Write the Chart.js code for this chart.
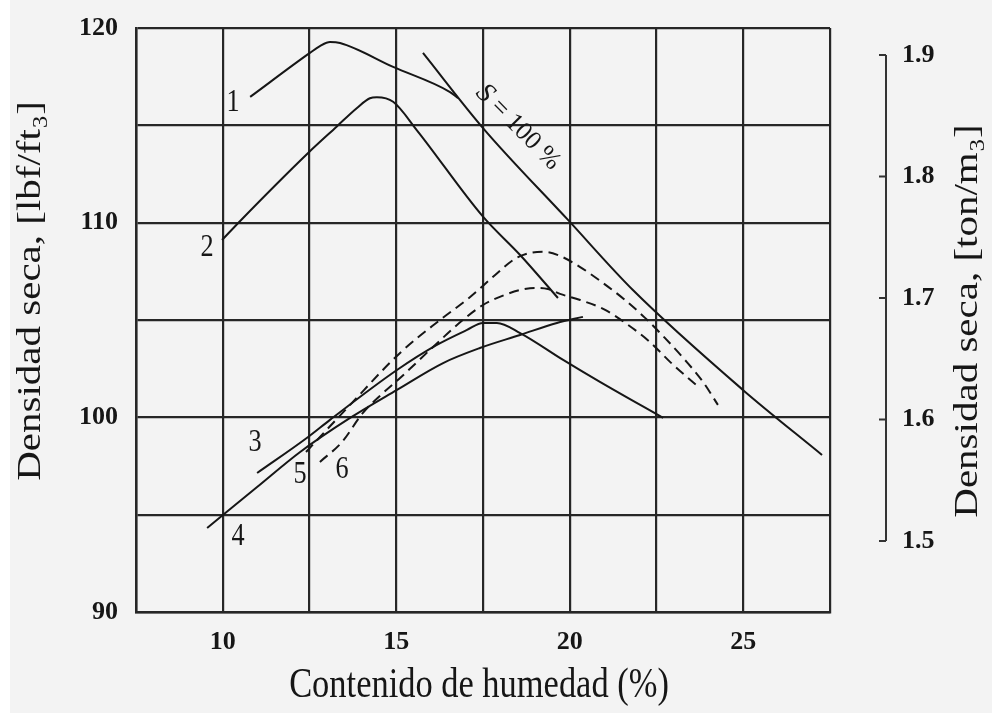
<!DOCTYPE html>
<html>
<head>
<meta charset="utf-8">
<script src="https://cdn.jsdelivr.net/npm/chart.js@4.4.1/dist/chart.umd.min.js"></script>
<style>
  html, body { margin: 0; padding: 0; background: #f3f3f3; }
  #wrap { width: 992px; height: 713px; }
</style>
</head>
<body>
<div id="wrap"><canvas id="chart" width="992" height="713"></canvas></div>
<script>
// moisture content (%) vs dry density (lbf/ft3)
const curve1X = [10.79, 12.51, 12.8, 13.09, 13.38, 14.91, 16.55, 16.78];
const curve1Y = [116.46, 118.72, 119.07, 119.28, 119.23, 118.0, 116.71, 116.4];

const curve2X = [9.98, 10.53, 12.46, 13.28, 13.86, 14.24, 14.44, 14.91, 15.59, 17.5, 18.57, 19.66];
const curve2Y = [109.11, 110.14, 113.58, 114.93, 115.88, 116.39, 116.44, 116.21, 114.76, 110.31, 108.34, 106.13];

const curve3X = [10.99, 12.46, 13.09, 15.02, 16.17, 17.04, 17.5, 17.9, 18.57, 19.81, 20.87, 22.69];
const curve3Y = [97.14, 98.99, 99.87, 102.43, 103.72, 104.49, 104.85, 104.85, 104.33, 102.95, 101.82, 99.97];

const curve4X = [9.55, 10.99, 12.23, 13.67, 15.02, 16.35, 17.41, 18.57, 19.63, 20.38];
const curve4Y = [94.32, 96.42, 98.22, 99.97, 101.41, 102.79, 103.56, 104.23, 104.85, 105.16];

const curve5X = [12.4, 13.67, 15.11, 16.26, 17.13, 17.85, 18.42, 18.85, 19.29, 19.72, 20.3, 20.96, 21.59, 22.17, 22.74, 23.32, 23.84, 24.27];
const curve5Y = [98.22, 100.64, 103.31, 105.0, 106.18, 107.31, 108.14, 108.44, 108.5, 108.29, 107.72, 106.9, 106.03, 105.11, 104.08, 102.95, 101.82, 100.64];

const curve6X = [12.8, 13.44, 14.04, 14.62, 15.11, 15.97, 16.92, 17.5, 18.13, 18.57, 18.99, 19.37, 19.72, 20.3, 21.02, 21.68, 22.31, 22.89, 23.41, 23.75];
const curve6Y = [97.71, 98.74, 100.23, 101.25, 102.02, 103.46, 105.0, 105.77, 106.29, 106.54, 106.65, 106.59, 106.34, 106.03, 105.52, 104.75, 103.87, 102.85, 102.02, 101.51];

// zero air voids line, S = 100 %
const satX = [15.77, 17.5, 19.95, 21.82, 24.99, 27.27];
const satY = [118.72, 114.86, 110.14, 106.54, 101.41, 98.07];

const curveNames = ['1', '2', '3', '4', '5', '6'];
const nameX = [10.3, 9.55, 10.93, 10.44, 12.23, 13.44];
const nameY = [116.15, 108.7, 98.69, 93.86, 97.04, 97.3];

const rightTicks = [1.5, 1.6, 1.7, 1.8, 1.9];
const LBF_PER_TON = 62.428; // 1 ton/m3 in lbf/ft3

const SERIF = "'Liberation Serif', 'DejaVu Serif', serif";
const INK = '#161616';
const SQUEEZE = 0.82; // the scanned lettering is narrow

function pts(xs, ys) {
    return xs.map((x, i) => ({ x: x, y: ys[i] }));
}

function curve(xs, ys, dashed) {
    return {
        data: pts(xs, ys),
        borderColor: INK,
        borderWidth: 2,
        borderDash: dashed ? [10, 6] : [],
        pointRadius: 0,
        cubicInterpolationMode: 'monotone',
        fill: false
    };
}

function narrowText(ctx, text, cx, cy, rot, font) {
    ctx.save();
    ctx.translate(cx, cy);
    ctx.scale(SQUEEZE, 1);
    ctx.rotate(rot);
    ctx.font = font;
    ctx.textAlign = 'center';
    ctx.textBaseline = 'middle';
    ctx.fillText(text, 0, 0);
    ctx.restore();
}

const paper = {
    id: 'paper',
    beforeDraw(chart) {
        const ctx = chart.ctx;
        ctx.save();
        ctx.fillStyle = '#f3f3f3';
        ctx.fillRect(0, 0, chart.width, chart.height);
        ctx.fillStyle = '#ffffff';
        ctx.fillRect(0, 0, 10, chart.height);
        ctx.restore();
    }
};

const extras = {
    id: 'extras',
    afterDraw(chart) {
        const ctx = chart.ctx;
        const xs = chart.scales.x;
        const ys = chart.scales.y;
        const y2 = chart.scales.y2;
        const area = chart.chartArea;
        ctx.save();
        ctx.fillStyle = INK;

        // right hand bracket axis in ton/m3
        const bx = area.right + 56;
        ctx.strokeStyle = '#333';
        ctx.lineWidth = 2;
        ctx.beginPath();
        ctx.moveTo(bx, y2.getPixelForValue(rightTicks[0]));
        ctx.lineTo(bx, y2.getPixelForValue(rightTicks[rightTicks.length - 1]));
        rightTicks.forEach((t) => {
            const py = y2.getPixelForValue(t);
            ctx.moveTo(bx, py);
            ctx.lineTo(bx - 7, py);
        });
        ctx.stroke();

        // axis titles
        const titleFont = '41px ' + SERIF;
        narrowText(ctx, 'Contenido de humedad (%)', (area.left + area.right) / 2 - 4, 686, 0, '42px ' + SERIF);
        narrowText(ctx, 'Densidad seca, [lbf/ft\u2083]', 31, 291, -Math.PI / 2, titleFont);
        narrowText(ctx, 'Densidad seca, [ton/m\u2083]', 968, 321, -Math.PI / 2, titleFont);

        // curve numbers
        curveNames.forEach((n, i) => {
            narrowText(ctx, n, xs.getPixelForValue(nameX[i]), ys.getPixelForValue(nameY[i]), 0, '32px ' + SERIF);
        });

        // S = 100 % along the saturation line
        const ax = xs.getPixelForValue(satX[1]), ay = ys.getPixelForValue(satY[1]);
        const bx2 = xs.getPixelForValue(satX[2]), by = ys.getPixelForValue(satY[2]);
        const ang = Math.atan2(by - ay, bx2 - ax) - 0.03;
        ctx.translate(xs.getPixelForValue(18.51), ys.getPixelForValue(114.9));
        ctx.rotate(ang);
        ctx.textBaseline = 'middle';
        ctx.font = 'italic 28px ' + SERIF;
        const sW = ctx.measureText('S').width;
        ctx.font = '26px ' + SERIF;
        const rest = ' = 100 %';
        const rW = ctx.measureText(rest).width;
        const start = -(sW + rW) / 2;
        ctx.textAlign = 'left';
        ctx.font = 'italic 28px ' + SERIF;
        ctx.fillText('S', start, 0);
        ctx.font = '26px ' + SERIF;
        ctx.fillText(rest, start + sW, 0);
        ctx.restore();
    }
};

const tickFont = { family: SERIF, size: 26, weight: 'bold' };
const hidden = 'rgba(0,0,0,0)';

new Chart(document.getElementById('chart'), {
    type: 'line',
    data: {
        datasets: [
            curve(curve1X, curve1Y, false),
            curve(curve2X, curve2Y, false),
            curve(curve3X, curve3Y, false),
            curve(curve4X, curve4Y, false),
            curve(curve5X, curve5Y, true),
            curve(curve6X, curve6Y, true),
            curve(satX, satY, false)
        ]
    },
    options: {
        responsive: false,
        animation: false,
        devicePixelRatio: 1,
        layout: { padding: { top: 28, left: 0, right: 0, bottom: 0 } },
        plugins: {
            legend: { display: false },
            tooltip: { enabled: false }
        },
        scales: {
            x: {
                type: 'linear',
                min: 7.5,
                max: 27.5,
                grid: { color: '#262626', lineWidth: 2.2, tickLength: 12, tickColor: hidden },
                border: { display: true, color: '#262626', width: 2.5 },
                ticks: {
                    stepSize: 2.5,
                    padding: 3,
                    color: INK,
                    font: tickFont,
                    maxRotation: 0,
                    callback: (v) => (v % 5 === 0 ? String(v) : '')
                },
                afterFit: (s) => { s.height = 101; }
            },
            y: {
                min: 90,
                max: 120,
                grid: { color: '#262626', lineWidth: 2.2, tickLength: 14, tickColor: hidden },
                border: { display: true, color: '#262626', width: 2.5 },
                ticks: {
                    stepSize: 5,
                    padding: 4,
                    color: INK,
                    font: tickFont,
                    callback: (v) => (v % 10 === 0 ? String(v) : '')
                },
                afterFit: (s) => { s.width = 136; }
            },
            y2: {
                position: 'right',
                min: 90 / LBF_PER_TON,
                max: 120 / LBF_PER_TON,
                grid: { drawOnChartArea: false, tickLength: 68, tickColor: hidden },
                border: { display: false },
                ticks: {
                    padding: 4,
                    color: INK,
                    font: tickFont,
                    callback: (v) => v.toFixed(1)
                },
                afterBuildTicks: (s) => { s.ticks = rightTicks.map((v) => ({ value: v })); },
                afterFit: (s) => { s.width = 162; }
            }
        }
    },
    plugins: [paper, extras]
});
</script>
</body>
</html>
